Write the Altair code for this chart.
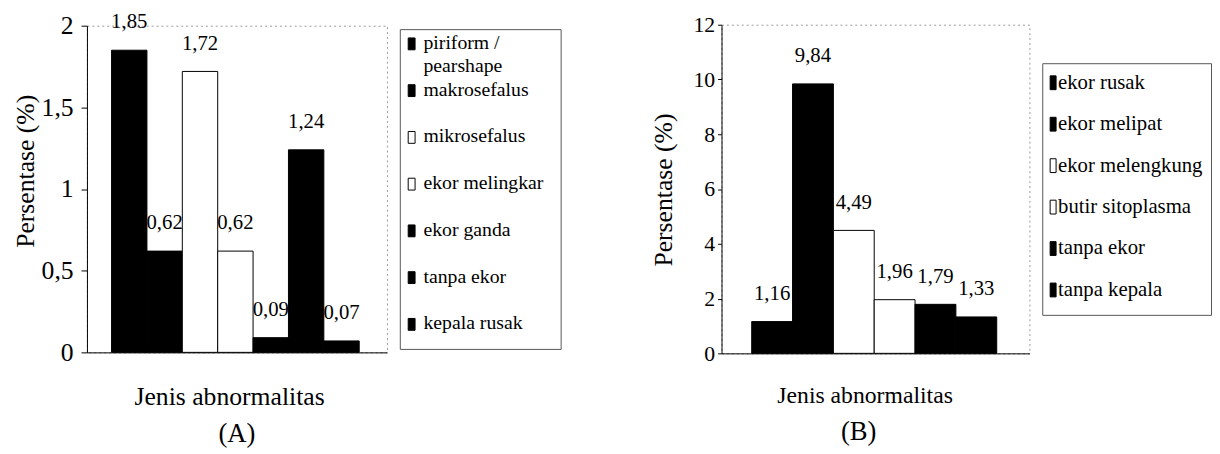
import altair as alt
import pandas as pd

FONT = "Liberation Serif"

# ---------------- Panel A data ----------------
a_categories = ["piriform / pearshape", "makrosefalus", "mikrosefalus",
                "ekor melingkar", "ekor ganda", "tanpa ekor", "kepala rusak"]
a_legend_text = ["piriform /\npearshape", "makrosefalus", "mikrosefalus",
                 "ekor melingkar", "ekor ganda", "tanpa ekor", "kepala rusak"]
a_values = [1.85, 0.62, 1.72, 0.62, 0.09, 1.24, 0.07]
a_fills = ["black", "black", "white", "white", "black", "black", "black"]
a_ticks = [0, 0.5, 1, 1.5, 2]

# ---------------- Panel B data ----------------
b_categories = ["ekor rusak", "ekor melipat", "ekor melengkung",
                "butir sitoplasma", "tanpa ekor", "tanpa kepala"]
b_values = [1.16, 9.84, 4.49, 1.96, 1.79, 1.33]
b_fills = ["black", "black", "white", "white", "black", "black"]
b_ticks = [0, 2, 4, 6, 8, 10, 12]

dfA = pd.DataFrame({"cat": a_categories, "v": a_values, "fill": a_fills})
dfB = pd.DataFrame({"cat": b_categories, "v": b_values, "fill": b_fills})
legA_df = pd.DataFrame({"item": a_categories, "label": a_legend_text, "fill": a_fills})
legB_df = pd.DataFrame({"item": b_categories, "label": b_categories, "fill": b_fills})

LABEL_EXPR = "replace(toString(datum.value), '.', ',')"


def panel(df, cats, ymax, ticks, w, h, pad_outer, align, tick_font, tick_size,
          label_pad, ytitle_x, ytitle_y, xtitle_x, xtitle_y, xtitle, xtitle_size,
          letter, letter_dx, letter_offset):
    x = alt.X("cat:N", sort=cats,
              scale=alt.Scale(paddingInner=0, paddingOuter=pad_outer, align=align),
              axis=alt.Axis(labels=False, ticks=False, domain=True, domainColor="black",
                            title=xtitle, titleFont=FONT, titleFontSize=xtitle_size,
                            titleFontWeight="normal", titleColor="black",
                            titleX=xtitle_x, titleY=xtitle_y, titleBaseline="middle",
                            titleAlign="center"))
    y = alt.Y("v:Q", scale=alt.Scale(domain=[0, ymax], nice=False, zero=True),
              axis=alt.Axis(values=ticks, labelExpr=LABEL_EXPR, grid=False,
                            tickSize=tick_size, tickColor="black", domainColor="black",
                            labelPadding=label_pad, labelFont=FONT, labelFontSize=tick_font,
                            labelColor="black",
                            title="Persentase (%)", titleFont=FONT, titleFontSize=26,
                            titleFontWeight="normal", titleColor="black",
                            titleX=ytitle_x, titleY=ytitle_y, titleBaseline="middle",
                            titleAlign="center", titleAngle=270))
    base = alt.Chart(df).encode(x=x, y=y)
    bars = base.mark_bar(stroke="black", strokeWidth=1).encode(
        fill=alt.Fill("fill:N", scale=None))
    labels = base.transform_calculate(
        lab="replace(format(datum.v, '.2f'), '.', ',')"
    ).mark_text(dy=-28, baseline="middle", align="center", font=FONT,
                fontSize=21, color="black").encode(text="lab:N")
    return alt.layer(bars, labels).properties(
        width=w, height=h,
        view=alt.ViewBackground(stroke="#999999", strokeDash=[2, 3], strokeWidth=1),
        title=alt.TitleParams(letter, orient="bottom", font=FONT, fontSize=27,
                              fontWeight="normal", color="black", anchor="middle",
                              offset=letter_offset, dx=letter_dx),
    )


def legend(df, cats, w, h, pad, align, sym_path, sym_size, sym_x, txt_x, font_size,
           line_height):
    base = alt.Chart(df).encode(
        y=alt.Y("item:N", sort=cats, axis=None,
                scale=alt.Scale(type="point", padding=pad, align=align)))
    sym = base.mark_point(shape=sym_path, filled=True, size=sym_size, stroke="black",
                          strokeWidth=1, opacity=1).encode(
        x=alt.value(sym_x), fill=alt.Fill("fill:N", scale=None))
    txt = base.mark_text(align="left", baseline="top", dy=-11, lineBreak="\n",
                         lineHeight=line_height, font=FONT, fontSize=font_size,
                         color="black").encode(x=alt.value(txt_x), text="label:N")
    return alt.layer(sym, txt).properties(
        width=w, height=h,
        view=alt.ViewBackground(stroke="#555555", strokeWidth=1))


chartA = panel(dfA, a_categories, 2, a_ticks, 304, 331, 0.74, 0.47, 26, 6, 8,
               -62, 147, 144, 45, "Jenis abnormalitas", 26, "(A)", 0, 12)
chartB = panel(dfB, b_categories, 12, b_ticks, 312, 333, 0.77, 0.48, 22, 4, 3,
               -59, 167, 145, 43, "Jenis  abnormalitas", 24, "(B)", -17, 12)

legA = legend(legA_df, a_categories, 163, 324, 0.42, 0.375,
              "M-0.58,-1L0.58,-1L0.58,1L-0.58,1Z", 144, 12, 24, 20, 24)
legB = legend(legB_df, b_categories, 171, 255, 0.536, 0.44,
              "M-0.43,-1L0.43,-1L0.43,1L-0.43,1Z", 196, 11, 16, 21, 24)

spacer = alt.Chart(pd.DataFrame({"z": [0]})).mark_point(opacity=0).encode(
    x=alt.value(0), y=alt.value(0)).properties(
    width=137, height=10, view=alt.ViewBackground(stroke="transparent"))

chart = alt.hconcat(chartA, legA, spacer, chartB, legB, spacing=13,
                    bounds="flush", center=True).properties(
    padding={"left": 4, "top": 0, "right": 0, "bottom": 0},
    background="white")

chart.save("out.html", embed_options={"renderer": "svg", "actions": False})
